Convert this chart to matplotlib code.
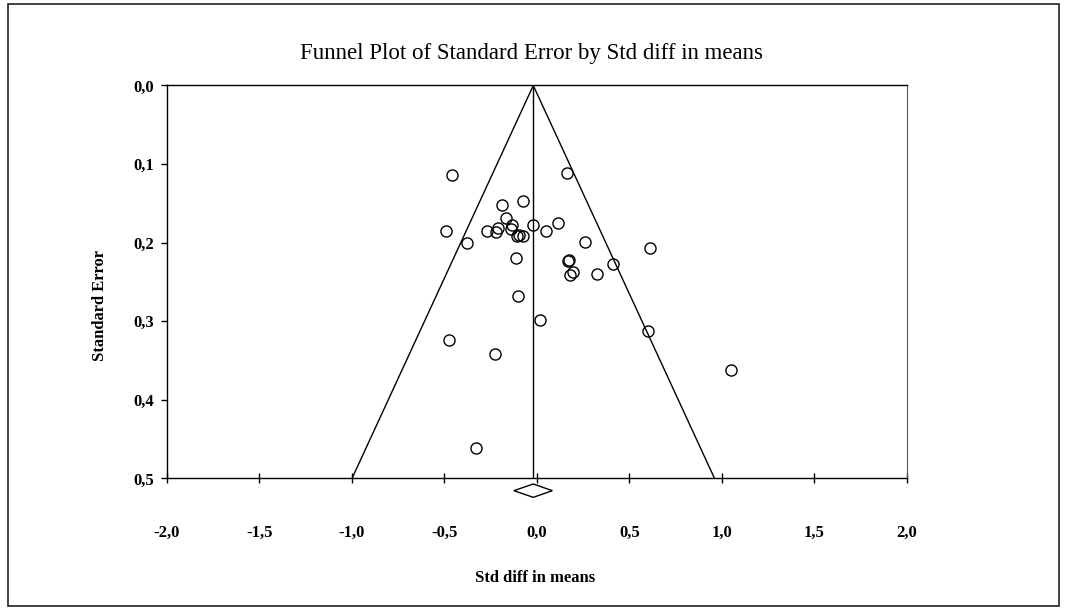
import matplotlib
matplotlib.use("Agg")
import matplotlib.pyplot as plt
from matplotlib.patches import Polygon, Rectangle

# =====================================================
# DATA
# =====================================================

std_diff = [
    -0.457, 0.163, -0.190, -0.078, -0.167, -0.491, -0.269, -0.221,
    -0.210, -0.133, -0.143, -0.106, -0.096, -0.076, -0.019, 0.048,
    0.115, -0.378, 0.259, 0.611, -0.114, 0.174, 0.170, 0.412,
    0.196, 0.178, 0.327, -0.100, 0.017, -0.473, -0.225, 0.602,
    1.051, -0.331,
]
std_err = [
    0.114, 0.111, 0.152, 0.147, 0.169, 0.185, 0.185, 0.186,
    0.181, 0.177, 0.182, 0.191, 0.190, 0.191, 0.177, 0.185,
    0.175, 0.200, 0.199, 0.207, 0.219, 0.222, 0.223, 0.227,
    0.237, 0.241, 0.240, 0.268, 0.298, 0.324, 0.342, 0.312,
    0.362, 0.461,
]

pooled_mean = -0.02
pooled_low = -0.125
pooled_high = 0.083
max_se = 0.5

x_ticks = [-2.0, -1.5, -1.0, -0.5, 0.0, 0.5, 1.0, 1.5, 2.0]
y_ticks = [0.0, 0.1, 0.2, 0.3, 0.4, 0.5]

# =====================================================
# PLOT
# =====================================================

plt.rcParams["font.family"] = ["Liberation Serif", "DejaVu Serif"]

fig = plt.figure(figsize=(10.65, 6.1), dpi=100)

# outer frame
fig.patches.append(
    Rectangle(
        (8 / 1065, 4 / 610), 1051 / 1065, 602 / 610,
        transform=fig.transFigure, fill=False,
        edgecolor="#222222", linewidth=1.2
    )
)

ax = fig.add_axes([0.1568, 0.2156, 0.6948, 0.6443])

# funnel
ax.plot(
    [pooled_mean - 1.96 * max_se, pooled_mean, pooled_mean + 1.96 * max_se],
    [max_se, 0.0, max_se],
    color="black", linewidth=1.0
)
ax.plot([pooled_mean, pooled_mean], [0.0, max_se], color="black", linewidth=1.0)

# studies
ax.plot(
    std_diff, std_err,
    linestyle="none", marker="o", markersize=8,
    markerfacecolor="none", markeredgecolor="black", markeredgewidth=1.0
)

# pooled diamond
d_mid = 0.5155
d_half = 0.0085
diamond = Polygon(
    [
        (pooled_low, d_mid),
        (pooled_mean, d_mid - d_half),
        (pooled_high, d_mid),
        (pooled_mean, d_mid + d_half),
    ],
    closed=True, fill=False, edgecolor="black", linewidth=1.0, clip_on=False
)
ax.add_patch(diamond)

ax.set_xlim(-2.0, 2.0)
ax.set_ylim(0.5, 0.0)

ax.set_xticks(x_ticks)
ax.set_xticklabels([f"{v:.1f}".replace(".", ",") for v in x_ticks])
ax.set_yticks(y_ticks)
ax.set_yticklabels([f"{v:.1f}".replace(".", ",") for v in y_ticks])

ax.tick_params(axis="x", direction="inout", length=7, width=1, pad=30,
               labelsize=12)
ax.tick_params(axis="y", direction="out", length=4, width=1, pad=5,
               labelsize=12)
for lab in ax.get_xticklabels() + ax.get_yticklabels():
    lab.set_fontweight("bold")

for side in ["top", "left", "bottom"]:
    ax.spines[side].set_linewidth(1.0)
ax.spines["right"].set_color("#555555")

ax.set_title(
    "Funnel Plot of Standard Error by Std diff in means",
    fontsize=16.5, pad=19, x=0.493
)
ax.set_xlabel("Std diff in means", fontsize=12, fontweight="bold")
ax.xaxis.set_label_coords(0.497, -0.232)
ax.set_ylabel("Standard Error", fontsize=12, fontweight="bold")
ax.yaxis.set_label_coords(-0.08, 0.44)

fig.savefig("out.png", dpi=100)
